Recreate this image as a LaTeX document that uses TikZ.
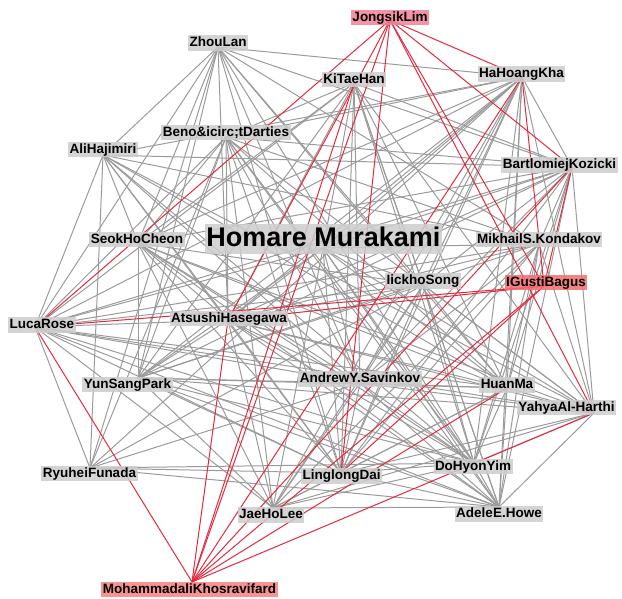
\documentclass[tikz,border=0pt]{standalone}
\usepackage{fontspec}
\setmainfont{Liberation Sans}
\definecolor{edgegrey}{RGB}{155,155,155}
\definecolor{edgered}{RGB}{228,42,62}
\definecolor{boxgrey}{RGB}{205,205,205}
\definecolor{boxpink}{RGB}{242,128,150}
\definecolor{boxred}{RGB}{242,110,110}
\definecolor{boxsalmon}{RGB}{246,128,128}
\tikzset{
  lab/.style={fill=boxgrey, fill opacity=0.85, text opacity=1, inner xsep=1.5pt, inner ysep=1.3pt,
    text height=10.3pt, text depth=3pt, font=\fontsize{13.5}{15}\selectfont\bfseries},
  bigl/.style={lab, inner ysep=2pt, text height=20.5pt, text depth=5.5pt, font=\fontsize{27}{30}\selectfont\bfseries},
  greyedge/.style={draw=edgegrey, line width=1pt},
  rededge/.style={draw=edgered, line width=1pt}
}
\begin{document}
\begin{tikzpicture}[x=1pt,y=-1pt]
\useasboundingbox (0,0) rectangle (622,598);
% points where the connectors meet
\coordinate (ZL) at (218,47);
\coordinate (JL) at (390,20);
\coordinate (KT) at (354,83);
\coordinate (HH) at (522,77);
\coordinate (BD) at (226,137);
\coordinate (AH) at (103,155);
\coordinate (BK) at (572,167);
\coordinate (SC) at (138,243);
\coordinate (HM) at (323,248);
\coordinate (MK) at (539,244);
\coordinate (IS) at (423,285);
\coordinate (IG) at (544,286);
\coordinate (LR) at (35,327);
\coordinate (AT) at (228,320);
\coordinate (YS) at (138,378);
\coordinate (AS) at (360,383);
\coordinate (HU) at (507,388);
\coordinate (YA) at (594,413);
\coordinate (RF) at (90,468);
\coordinate (LD) at (341,473);
\coordinate (DY) at (474,463);
\coordinate (JH) at (273,508);
\coordinate (AE) at (499,507);
\coordinate (MO) at (192,582);

% grey co-author links
\foreach \a/\b in {ZL/HH, ZL/BK, ZL/MK, ZL/AH, ZL/LR, ZL/SC, ZL/YS, ZL/RF, ZL/AT, ZL/LD, ZL/AS, ZL/DY, ZL/HU, ZL/IS,
  AH/HH, AH/BK, AH/LR, AH/RF, AH/SC, AH/AT, AH/AS, AH/DY, AH/HU, AH/MK, AH/YA, AH/LD,
  KT/SC, KT/LR, KT/YS, KT/AT, KT/HM, KT/AS, KT/LD, KT/IS, KT/BK, KT/YA, KT/DY, KT/HU, KT/AE,
  HH/SC, HH/YS, HH/AT, HH/RF, HH/HM, HH/IS, HH/AS, HH/LD, HH/DY, HH/HU, HH/AE, HH/YA, HH/BK, HH/JH, HH/LR,
  BK/SC, BK/HM, BK/LR, BK/AT, BK/IS, BK/YS, BK/LD, BK/AS, BK/DY, BK/HU, BK/AE, BK/YA, BK/MK,
  BD/LR, BD/SC, BD/YS, BD/RF, BD/AT, BD/JH, BD/LD, BD/AS, BD/DY, BD/HU, BD/AE, BD/YA, BD/MK, BD/BK, BD/HH, BD/KT,
  SC/YS, SC/AT, SC/AS, SC/HU, SC/LD, SC/DY, SC/YA, SC/AE, SC/JH, SC/IS,
  HM/LR, HM/YS, HM/AT, HM/AS, HM/LD, HM/JH, HM/DY, HM/HU, HM/AE, HM/YA, HM/MK, HM/IS,
  MK/AT, MK/YS, MK/LR, MK/LD, MK/AS, MK/HU, MK/DY, MK/AE, MK/YA, MK/JH,
  IS/LR, IS/AT, IS/YS, IS/AS, IS/LD, IS/JH, IS/DY, IS/AE, IS/HU, IS/YA, IS/RF,
  LR/AT, LR/AS, LR/HU, LR/YA, LR/DY, LR/AE, LR/LD, LR/RF, LR/JH,
  AT/AS, AT/HU, AT/YA, AT/DY, AT/LD, AT/JH, AT/AE, AT/YS,
  YS/AS, YS/HU, YS/LD, YS/JH, YS/DY, YS/AE, YS/YA,
  AS/HU, AS/YA, AS/DY, AS/AE, AS/JH, AS/LD, AS/RF,
  HU/YA, HU/DY, HU/AE, HU/LD, HU/JH,
  YA/DY, YA/AE, YA/LD, YA/JH,
  RF/LD, RF/AE, RF/DY,
  LD/DY, LD/AE, LD/JH,
  DY/AE, DY/JH, JH/AE}
  \draw[greyedge] (\a) -- (\b);

% red links of the highlighted authors
\foreach \a/\b in {JL/LR, JL/AT, JL/MO, JL/LD, JL/IG, JL/YA, JL/HH, JL/BK,
  MO/LR, MO/AT, MO/KT, MO/HH, MO/BK, MO/IG, MO/HU, MO/YA,
  IG/LR, IG/AT, IG/HH, IG/BK, IG/LD}
  \draw[rededge] (\a) -- (\b);

% author labels
\node[lab] (ZLt) at (218,43) {ZhouLan};
\node[lab, fill=boxpink] (JLt) at (390,17.5) {JongsikLim};
\node[lab] (KTt) at (354,79.5) {KiTaeHan};
\node[lab] (HHt) at (521.5,74) {HaHoangKha};
\node[lab] (BDt) at (226,132.5) {Beno\&icirc;tDarties};
\node[lab] (AHt) at (103,149.5) {AliHajimiri};
\node[lab] (BKt) at (559.5,165) {BartlomiejKozicki};
\node[lab] (SCt) at (137,239.5) {SeokHoCheon};
\node[bigl] (HMt) at (323.5,239) {Homare Murakami};
\node[lab] (MKt) at (539,239.5) {MikhailS.Kondakov};
\node[lab] (ISt) at (423,281) {IickhoSong};
\node[lab, fill=boxred] (IGt) at (546,282.5) {IGustiBagus};
\node[lab] (LRt) at (42,325) {LucaRose};
\node[lab] (ATt) at (229,318.5) {AtsushiHasegawa};
\node[lab] (YSt) at (127.5,384.5) {YunSangPark};
\node[lab] (ASt) at (360,379) {AndrewY.Savinkov};
\node[lab] (HUt) at (507,385) {HuanMa};
\node[lab] (YAt) at (566.5,407.5) {YahyaAl-Harthi};
\node[lab] (RFt) at (89.5,473.5) {RyuheiFunada};
\node[lab] (LDt) at (341.5,476) {LinglongDai};
\node[lab] (DYt) at (473,466.5) {DoHyonYim};
\node[lab] (JHt) at (271,515) {JaeHoLee};
\node[lab] (AEt) at (499,514) {AdeleE.Howe};
\node[lab, fill=boxsalmon] (MOt) at (189.5,589.5) {MohammadaliKhosravifard};
\end{tikzpicture}
\end{document}
